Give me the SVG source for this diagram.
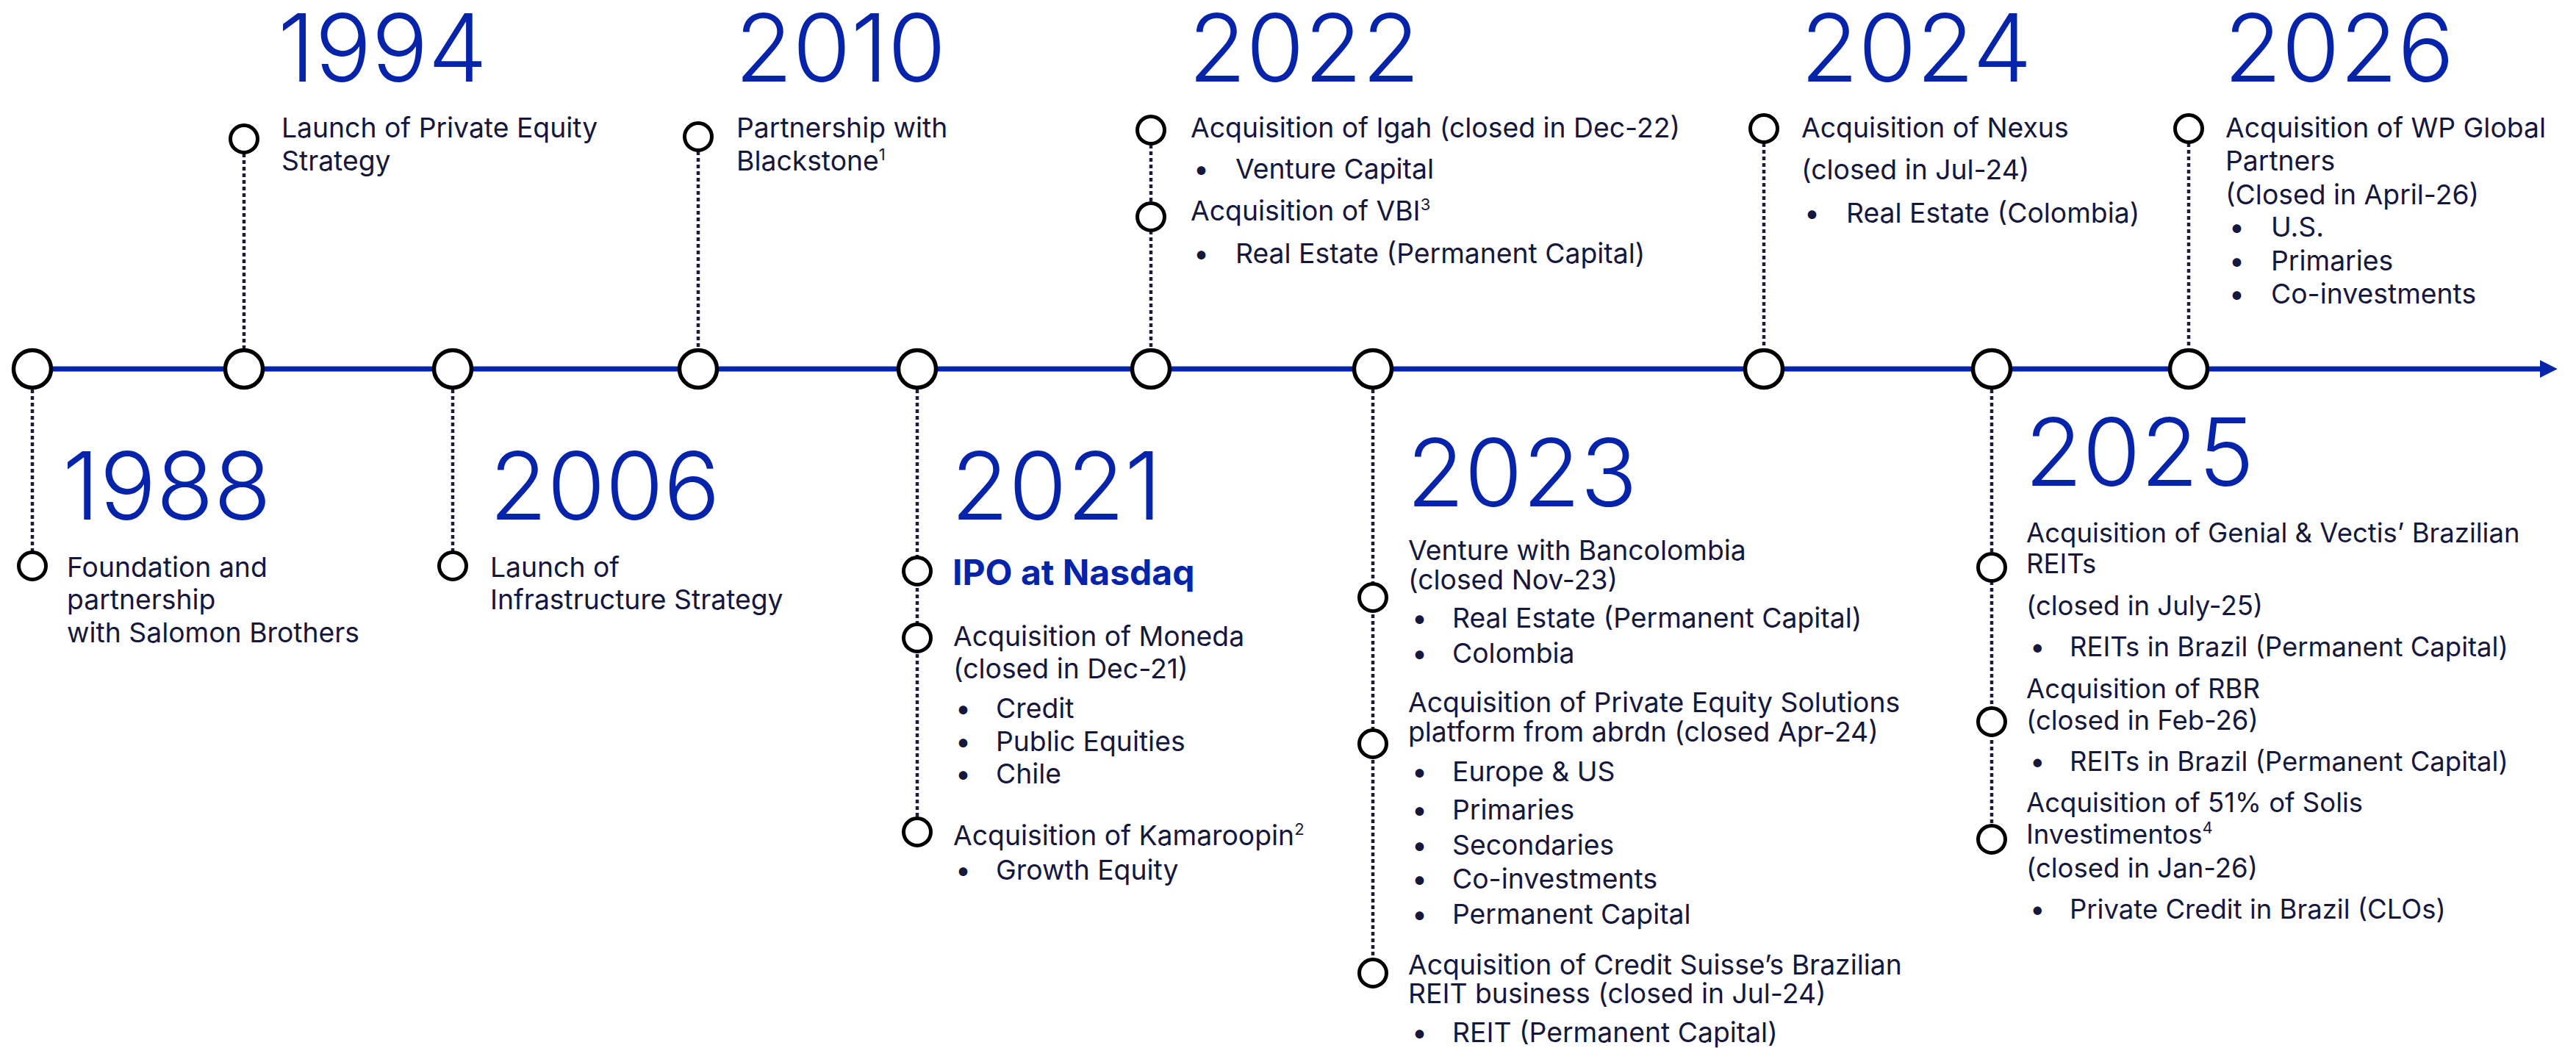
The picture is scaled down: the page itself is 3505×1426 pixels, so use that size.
<svg xmlns="http://www.w3.org/2000/svg" width="3505" height="1426" viewBox="0 0 3505 1426">
  <style>
    .yr { font-family: Inter, "Liberation Sans", sans-serif; font-size: 128px; font-weight: 300; fill: #0524ab; }
    .tx { font-family: Inter, "Liberation Sans", sans-serif; font-size: 37.3px; fill: #16173d; }
    .tx2 { font-family: Inter, "Liberation Sans", sans-serif; font-size: 36.5px; fill: #16173d; }
    .ipo { font-family: Inter, "Liberation Sans", sans-serif; font-size: 48px; font-weight: 700; fill: #0524ab; }
    .sup { font-size: 22px; }
    .big { fill: #ffffff; stroke: #000000; stroke-width: 5.5; }
    .dot { fill: #ffffff; stroke: #000000; stroke-width: 5; }
    .conn { stroke: #1b1c3c; stroke-width: 4.5; stroke-dasharray: 5 4; fill: none; }
    .axis { stroke: #0524ab; stroke-width: 7; fill: none; }
  </style>
  <defs>
    <marker id="arrow" viewBox="0 0 10 10" refX="0" refY="5" markerWidth="3.4" markerHeight="3.4" orient="auto" markerUnits="strokeWidth">
      <path d="M0,0 L10,5 L0,10 Z" fill="#0524ab"/>
    </marker>
  </defs>

  <rect width="3505" height="1426" fill="#ffffff"/>

  <!-- timeline axis and dotted leaders -->
  <g id="connectors">
    <line class="axis" x1="45" y1="502" x2="3456" y2="502" marker-end="url(#arrow)"/>
    <line class="conn" x1="44" y1="530" x2="44" y2="750"/>
    <line class="conn" x1="332" y1="209" x2="332" y2="474"/>
    <line class="conn" x1="616" y1="530" x2="616" y2="750"/>
    <line class="conn" x1="950" y1="206" x2="950" y2="474"/>
    <line class="conn" x1="1248" y1="530" x2="1248" y2="1112"/>
    <line class="conn" x1="1566" y1="197" x2="1566" y2="474"/>
    <line class="conn" x1="1868" y1="530" x2="1868" y2="1304"/>
    <line class="conn" x1="2400" y1="195" x2="2400" y2="474"/>
    <line class="conn" x1="2710" y1="530" x2="2710" y2="1122"/>
    <line class="conn" x1="2978" y1="195" x2="2978" y2="474"/>
  </g>

  <!-- 1988 -->
  <g id="y1988">
    <circle class="big" cx="44" cy="502" r="25.5"/>
    <circle class="dot" cx="44" cy="770" r="18.5"/>
    <text class="yr" x="85" y="707">1988</text>
    <text class="tx" x="91" y="785">Foundation and</text>
    <text class="tx" x="91" y="829">partnership</text>
    <text class="tx" x="91" y="874">with Salomon Brothers</text>
  </g>

  <!-- 1994 -->
  <g id="y1994">
    <circle class="big" cx="332" cy="502" r="25.5"/>
    <circle class="dot" cx="332" cy="189" r="18.5"/>
    <text class="yr" x="378" y="111">1994</text>
    <text class="tx" x="383" y="187">Launch of Private Equity</text>
    <text class="tx" x="383" y="232">Strategy</text>
  </g>

  <!-- 2006 -->
  <g id="y2006">
    <circle class="big" cx="616" cy="502" r="25.5"/>
    <circle class="dot" cx="616" cy="770" r="18.5"/>
    <text class="yr" x="666" y="707">2006</text>
    <text class="tx" x="667" y="785">Launch of</text>
    <text class="tx" x="667" y="829">Infrastructure Strategy</text>
  </g>

  <!-- 2010 -->
  <g id="y2010">
    <circle class="big" cx="950" cy="502" r="25.5"/>
    <circle class="dot" cx="950" cy="186" r="18.5"/>
    <text class="yr" x="1000" y="111">2010</text>
    <text class="tx" x="1002" y="187">Partnership with</text>
    <text class="tx" x="1002" y="232">Blackstone<tspan class="sup" dy="-14">1</tspan></text>
  </g>

  <!-- 2021 -->
  <g id="y2021">
    <circle class="big" cx="1248" cy="502" r="25.5"/>
    <circle class="dot" cx="1248" cy="777" r="18.5"/>
    <circle class="dot" cx="1248" cy="868" r="18.5"/>
    <circle class="dot" cx="1248" cy="1132" r="18.5"/>
    <text class="yr" x="1294" y="707">2021</text>
    <text class="ipo" x="1296" y="796">IPO at Nasdaq</text>
    <text class="tx" x="1297" y="879">Acquisition of Moneda</text>
    <text class="tx" x="1297" y="923">(closed in Dec-21)</text>
    <text class="tx" x="1300" y="977">•</text><text class="tx" x="1355" y="977">Credit</text>
    <text class="tx" x="1300" y="1022">•</text><text class="tx" x="1355" y="1022">Public Equities</text>
    <text class="tx" x="1300" y="1066">•</text><text class="tx" x="1355" y="1066">Chile</text>
    <text class="tx" x="1297" y="1150">Acquisition of Kamaroopin<tspan class="sup" dy="-14">2</tspan></text>
    <text class="tx" x="1300" y="1197">•</text><text class="tx" x="1355" y="1197">Growth Equity</text>
  </g>

  <!-- 2022 -->
  <g id="y2022">
    <circle class="big" cx="1566" cy="502" r="25.5"/>
    <circle class="dot" cx="1566" cy="177" r="18.5"/>
    <circle class="dot" cx="1566" cy="295" r="18.5"/>
    <text class="yr" x="1617" y="111">2022</text>
    <text class="tx" x="1620" y="187">Acquisition of Igah (closed in Dec-22)</text>
    <text class="tx" x="1624" y="243">•</text><text class="tx" x="1681" y="243">Venture Capital</text>
    <text class="tx" x="1620" y="300">Acquisition of VBI<tspan class="sup" dy="-14">3</tspan></text>
    <text class="tx" x="1624" y="358">•</text><text class="tx" x="1681" y="358">Real Estate (Permanent Capital)</text>
  </g>

  <!-- 2023 -->
  <g id="y2023">
    <circle class="big" cx="1868" cy="502" r="25.5"/>
    <circle class="dot" cx="1868" cy="813" r="18.5"/>
    <circle class="dot" cx="1868" cy="1012" r="18.5"/>
    <circle class="dot" cx="1868" cy="1324" r="18.5"/>
    <text class="yr" x="1914" y="689">2023</text>
    <text class="tx" x="1916" y="762">Venture with Bancolombia</text>
    <text class="tx" x="1916" y="802">(closed Nov-23)</text>
    <text class="tx" x="1921" y="854">•</text><text class="tx" x="1976" y="854">Real Estate (Permanent Capital)</text>
    <text class="tx" x="1921" y="902">•</text><text class="tx" x="1976" y="902">Colombia</text>
    <text class="tx" x="1916" y="969">Acquisition of Private Equity Solutions</text>
    <text class="tx" x="1916" y="1009">platform from abrdn (closed Apr-24)</text>
    <text class="tx" x="1921" y="1063">•</text><text class="tx" x="1976" y="1063">Europe &amp; US</text>
    <text class="tx" x="1921" y="1115">•</text><text class="tx" x="1976" y="1115">Primaries</text>
    <text class="tx" x="1921" y="1163">•</text><text class="tx" x="1976" y="1163">Secondaries</text>
    <text class="tx" x="1921" y="1209">•</text><text class="tx" x="1976" y="1209">Co-investments</text>
    <text class="tx" x="1921" y="1257">•</text><text class="tx" x="1976" y="1257">Permanent Capital</text>
    <text class="tx" x="1916" y="1326">Acquisition of Credit Suisse’s Brazilian</text>
    <text class="tx" x="1916" y="1365">REIT business (closed in Jul-24)</text>
    <text class="tx" x="1921" y="1418">•</text><text class="tx" x="1976" y="1418">REIT (Permanent Capital)</text>
  </g>

  <!-- 2024 -->
  <g id="y2024">
    <circle class="big" cx="2400" cy="502" r="25.5"/>
    <circle class="dot" cx="2400" cy="175" r="18.5"/>
    <text class="yr" x="2450" y="111">2024</text>
    <text class="tx" x="2451" y="187">Acquisition of Nexus</text>
    <text class="tx" x="2451" y="244">(closed in Jul-24)</text>
    <text class="tx" x="2455" y="303">•</text><text class="tx" x="2512" y="303">Real Estate (Colombia)</text>
  </g>

  <!-- 2025 -->
  <g id="y2025">
    <circle class="big" cx="2710" cy="502" r="25.5"/>
    <circle class="dot" cx="2710" cy="772" r="18.5"/>
    <circle class="dot" cx="2710" cy="982" r="18.5"/>
    <circle class="dot" cx="2710" cy="1142" r="18.5"/>
    <text class="yr" x="2755" y="661">2025</text>
    <text class="tx2" x="2757" y="738">Acquisition of Genial &amp; Vectis’ Brazilian</text>
    <text class="tx2" x="2757" y="780">REITs</text>
    <text class="tx2" x="2757" y="837">(closed in July-25)</text>
    <text class="tx2" x="2762" y="893">•</text><text class="tx2" x="2816" y="893">REITs in Brazil (Permanent Capital)</text>
    <text class="tx2" x="2757" y="950">Acquisition of RBR</text>
    <text class="tx2" x="2757" y="993">(closed in Feb-26)</text>
    <text class="tx2" x="2762" y="1049">•</text><text class="tx2" x="2816" y="1049">REITs in Brazil (Permanent Capital)</text>
    <text class="tx2" x="2757" y="1105">Acquisition of 51% of Solis</text>
    <text class="tx2" x="2757" y="1148">Investimentos<tspan class="sup" dy="-14">4</tspan></text>
    <text class="tx2" x="2757" y="1194">(closed in Jan-26)</text>
    <text class="tx2" x="2762" y="1250">•</text><text class="tx2" x="2816" y="1250">Private Credit in Brazil (CLOs)</text>
  </g>

  <!-- 2026 -->
  <g id="y2026">
    <circle class="big" cx="2978" cy="502" r="25.5"/>
    <circle class="dot" cx="2978" cy="175" r="18.5"/>
    <text class="yr" x="3026" y="111">2026</text>
    <text class="tx" x="3028" y="187">Acquisition of WP Global</text>
    <text class="tx" x="3028" y="232">Partners</text>
    <text class="tx" x="3028" y="278">(Closed in April-26)</text>
    <text class="tx" x="3033" y="322">•</text><text class="tx" x="3090" y="322">U.S.</text>
    <text class="tx" x="3033" y="368">•</text><text class="tx" x="3090" y="368">Primaries</text>
    <text class="tx" x="3033" y="413">•</text><text class="tx" x="3090" y="413">Co-investments</text>
  </g>
</svg>
